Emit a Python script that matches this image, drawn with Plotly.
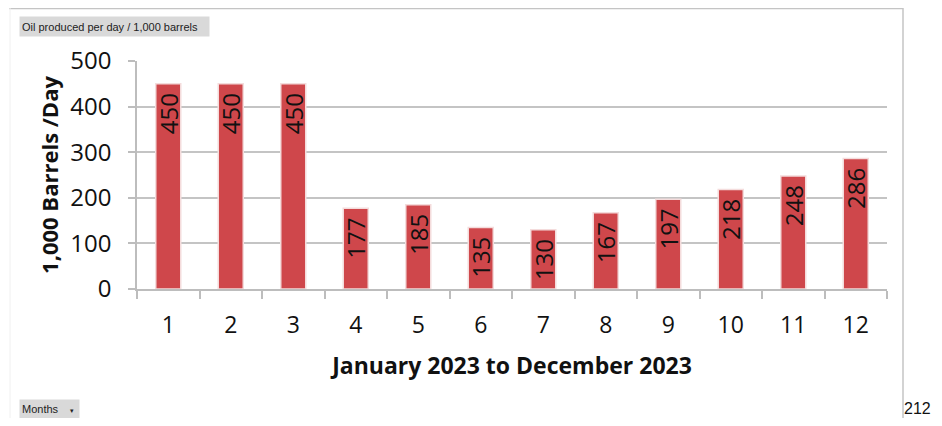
import plotly.graph_objects as go

months = ["1", "2", "3", "4", "5", "6", "7", "8", "9", "10", "11", "12"]
barrels = [450, 450, 450, 177, 185, 135, 130, 167, 197, 218, 248, 286]
y_ticks = [0, 100, 200, 300, 400, 500]

# the page body adds an 8px margin on each side, so the figure is drawn smaller
OFF = 8
W, H = 942 - 2 * OFF, 426 - 2 * OFF
L, R, T, B = 137 - OFF, 887 - OFF, 61 - OFF, 289 - OFF  # plot area in figure pixels


def px(x):
    return (x - OFF - L) / (R - L)


def py(y):
    return (B - (y - OFF)) / (B - T)


FONT = "Open Sans"

fig = go.Figure(
    go.Bar(
        x=months,
        y=barrels,
        marker=dict(color="#cf474b", line=dict(color="#f4dcdc", width=1.5)),
        text=barrels,
        texttemplate="%{text}\u00a0",
        textposition="inside",
        insidetextanchor="end",
        textangle=-90,
        constraintext="none",
        textfont=dict(family=FONT, size=24, color="#111111"),
        cliponaxis=False,
        hoverinfo="skip",
    )
)

shapes = [
    dict(type="line", xref="paper", yref="paper", x0=px(9), x1=px(903), y0=py(8.5), y1=py(8.5),
         line=dict(color="#c4c4c4", width=1.5)),
    dict(type="line", xref="paper", yref="paper", x0=px(903), x1=px(903), y0=py(8), y1=py(430),
         line=dict(color="#c4c4c4", width=1.5)),
    dict(type="line", xref="paper", yref="paper", x0=px(10), x1=px(10), y0=py(8), y1=py(430),
         line=dict(color="#f0f0f0", width=1)),
]

annotations = [
    dict(text="Oil produced per day / 1,000 barrels", xref="paper", yref="paper",
         x=px(19), y=py(26), xanchor="left", yanchor="middle", showarrow=False,
         font=dict(family="Liberation Sans", size=11, color="#222222"),
         bgcolor="#d9d9d9", width=185, height=15, align="left", borderpad=2),
    dict(text="Months&nbsp;&nbsp;&nbsp;&nbsp;<span style='font-size:7px'>▾</span>", xref="paper", yref="paper",
         x=px(19), y=py(409), xanchor="left", yanchor="middle", showarrow=False,
         font=dict(family="Liberation Sans", size=11, color="#222222"),
         bgcolor="#d9d9d9", width=55, height=14, align="left", borderpad=2),
    dict(text="212", xref="paper", yref="paper",
         x=px(933), y=py(408), xanchor="right", yanchor="middle", showarrow=False,
         font=dict(family="Liberation Sans", size=16, color="#111111")),
]

fig.update_layout(
    width=W,
    height=H,
    margin=dict(l=L, r=W - R, t=T, b=H - B),
    paper_bgcolor="white",
    plot_bgcolor="white",
    bargap=0.6,
    showlegend=False,
    shapes=shapes,
    annotations=annotations,
    xaxis=dict(
        type="category",
        tickson="boundaries",
        ticks="outside",
        ticklen=8,
        tickcolor="#bdbdbd",
        tickwidth=1.5,
        showline=True,
        linecolor="#bdbdbd",
        linewidth=1.5,
        showgrid=False,
        tickfont=dict(family=FONT, size=23, color="#111111"),
        ticklabelstandoff=15,
        title=dict(text="<b>January 2023 to December 2023</b>",
                   font=dict(family=FONT, size=23, color="#111111"), standoff=19),
    ),
    yaxis=dict(
        range=[0, 500],
        tickvals=y_ticks,
        ticks="outside",
        ticklen=7,
        tickcolor="#bdbdbd",
        tickwidth=1.5,
        showline=True,
        linecolor="#bdbdbd",
        linewidth=1.5,
        showgrid=True,
        gridcolor="#c4c4c4",
        gridwidth=1.5,
        zeroline=False,
        tickfont=dict(family=FONT, size=24, color="#111111"),
        ticklabelstandoff=12,
        title=dict(text="<b>1,000 Barrels /Day</b>",
                   font=dict(family=FONT, size=22, color="#111111"), standoff=6),
    ),
)

fig.write_html("out.html")
